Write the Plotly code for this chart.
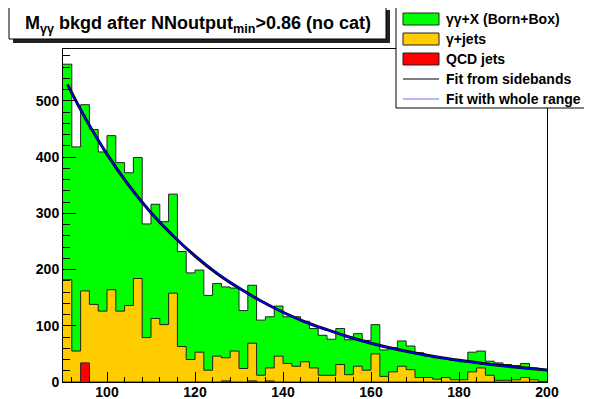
import numpy as np
import plotly.graph_objects as go

# M_gg histogram, 2 GeV bins from 90 to 200
mass_edges = list(range(90, 202, 2))

diphoton = [383, 363, 331, 311, 283, 274, 264, 236, 215, 202,
            203, 183, 176, 169, 154, 146, 133, 129, 126, 112,
            103, 103, 98, 91, 89, 83, 88, 72, 70, 71,
            64, 64, 62, 58, 53, 52, 47, 43, 45, 42,
            44, 38, 38, 34, 35, 32, 35, 30, 25, 31,
            28, 25, 25, 21, 21]
gamma_jets = [182, 55, 128, 138, 126, 164, 126, 136, 184, 79,
              113, 102, 158, 63, 40, 53, 21, 46, 41, 55,
              24, 67, 12, 23, 46, 33, 28, 36, 25, 12,
              12, 31, 13, 28, 21, 50, 10, 18, 28, 22,
              8, 8, 5, 8, 4, 4, 18, 25, 12, 3,
              3, 4, 8, 4, 1]
qcd_jets = [0, 0, 34, 0, 0, 0, 0, 0, 0, 0,
            0, 0, 0, 0, 0, 0, 0, 0, 2, 0,
            0, 2, 0, 2, 0, 0, 0, 0, 0, 0,
            0, 0, 0, 0, 0, 0, 0, 0, 0, 0,
            0, 0, 0, 0, 0, 0, 0, 0, 0, 0,
            0, 0, 0, 0, 0]

# exponential fits
fit_x = [91, 95, 100, 105, 110, 115, 120, 125, 130, 135, 140, 145,
         150, 155, 160, 165, 170, 175, 180, 185, 190, 195, 200]
fit_sidebands = [529, 470, 405, 349, 301, 260, 224, 193, 167, 144, 124, 107,
                 93, 80, 69, 59.5, 51.5, 44.5, 38.5, 33.2, 28.7, 24.8, 21.4]
fit_whole = [528, 469, 405, 349, 301, 260, 224, 194, 167, 144, 124, 107,
             93, 80, 69, 59.5, 51.3, 44.3, 38.2, 33.0, 28.5, 24.5, 21.2]

W, H = 592, 399
OFF = 8  # page body margin
X0, X1, Y0, Y1 = 63, 547, 49, 382  # plot frame in page pixels
pw, ph = X1 - X0, Y1 - Y0


def px(x):
    return (x - X0) / pw


def py(y):
    return (Y1 - y) / ph


def step(vals):
    return mass_edges, list(vals) + [vals[-1]]


c_qcd = np.array(qcd_jets)
c_gj = c_qcd + np.array(gamma_jets)
c_all = c_gj + np.array(diphoton)

GREEN, ORANGE, RED = "#00ff00", "#ffcc00", "#ff0000"

fig = go.Figure()
for vals, col in [(c_all, GREEN), (c_gj, ORANGE), (c_qcd, RED)]:
    xs, ys = step(vals)
    fig.add_trace(go.Scatter(x=xs, y=ys, mode="lines", fill="tozeroy",
                             fillcolor=col, line=dict(color="#222222", width=1, shape="hv"),
                             showlegend=False, hoverinfo="skip"))

fig.add_trace(go.Scatter(x=fit_x, y=fit_sidebands, mode="lines",
                         line=dict(color="black", width=3, shape="spline"), showlegend=False))
fig.add_trace(go.Scatter(x=fit_x, y=fit_whole, mode="lines",
                         line=dict(color="#0000ff", width=1.5, shape="spline"), showlegend=False))

font = dict(family="Liberation Sans, Arial, sans-serif", size=14, color="black", weight="bold")

fig.update_xaxes(range=[90, 200], showline=True, linecolor="black", linewidth=1, mirror=True,
                 ticks="inside", ticklen=10, tickcolor="black", dtick=20, tick0=100,
                 minor=dict(ticks="inside", ticklen=5, dtick=4, tick0=100, tickcolor="black"),
                 showgrid=False, zeroline=False, tickfont=font, ticklabelstandoff=-3)
fig.update_yaxes(range=[0, 592], showline=True, linecolor="black", linewidth=1, mirror=True,
                 ticks="inside", ticklen=13, tickcolor="black", dtick=100, tick0=0,
                 minor=dict(ticks="inside", ticklen=7, dtick=20, tick0=0, tickcolor="black"),
                 showgrid=False, zeroline=False, tickfont=font)

shapes = []
annotations = []

# title box with shadow
shapes.append(dict(type="rect", xref="paper", yref="paper", x0=px(13), x1=px(390),
                   y0=py(43), y1=py(10), fillcolor="#222222", line=dict(width=0)))
shapes.append(dict(type="rect", xref="paper", yref="paper", x0=px(9), x1=px(386),
                   y0=py(39), y1=py(6), fillcolor="white", line=dict(color="black", width=1)))
annotations.append(dict(xref="paper", yref="paper", x=px(198), y=py(24),
                        text="M<sub>γγ</sub> bkgd after NNoutput<sub>min</sub>>0.86 (no cat)",
                        showarrow=False, xanchor="center", yanchor="middle",
                        font=dict(font, size=18)))

# legend box
shapes.append(dict(type="rect", xref="paper", yref="paper", x0=px(396), x1=px(590),
                   y0=py(108), y1=py(1), fillcolor="white", line=dict(color="black", width=1)))
labels = ["γγ+X (Born+Box)", "γ+jets", "QCD jets", "Fit from sidebands", "Fit with whole range"]
for i, lab in enumerate(labels):
    yc = 19 + 20 * i
    if i < 3:
        shapes.append(dict(type="rect", xref="paper", yref="paper", x0=px(403), x1=px(439),
                           y0=py(yc + 6), y1=py(yc - 6), fillcolor=[GREEN, ORANGE, RED][i],
                           line=dict(color="#222222", width=1)))
    else:
        shapes.append(dict(type="line", xref="paper", yref="paper", x0=px(403), x1=px(439),
                           y0=py(yc), y1=py(yc),
                           line=dict(color="black" if i == 3 else "#6f6fff", width=1)))
    annotations.append(dict(xref="paper", yref="paper", x=px(444), y=py(yc), text=lab,
                            showarrow=False, xanchor="left", yanchor="middle", font=font))

fig.update_layout(width=W, height=H,
                  margin=dict(l=X0 - OFF, r=W - (X1 - OFF), t=Y0 - OFF, b=H - (Y1 - OFF),
                              autoexpand=False),
                  paper_bgcolor="white", plot_bgcolor="white", template="none",
                  shapes=shapes, annotations=annotations, showlegend=False)

fig.write_html("out.html")
